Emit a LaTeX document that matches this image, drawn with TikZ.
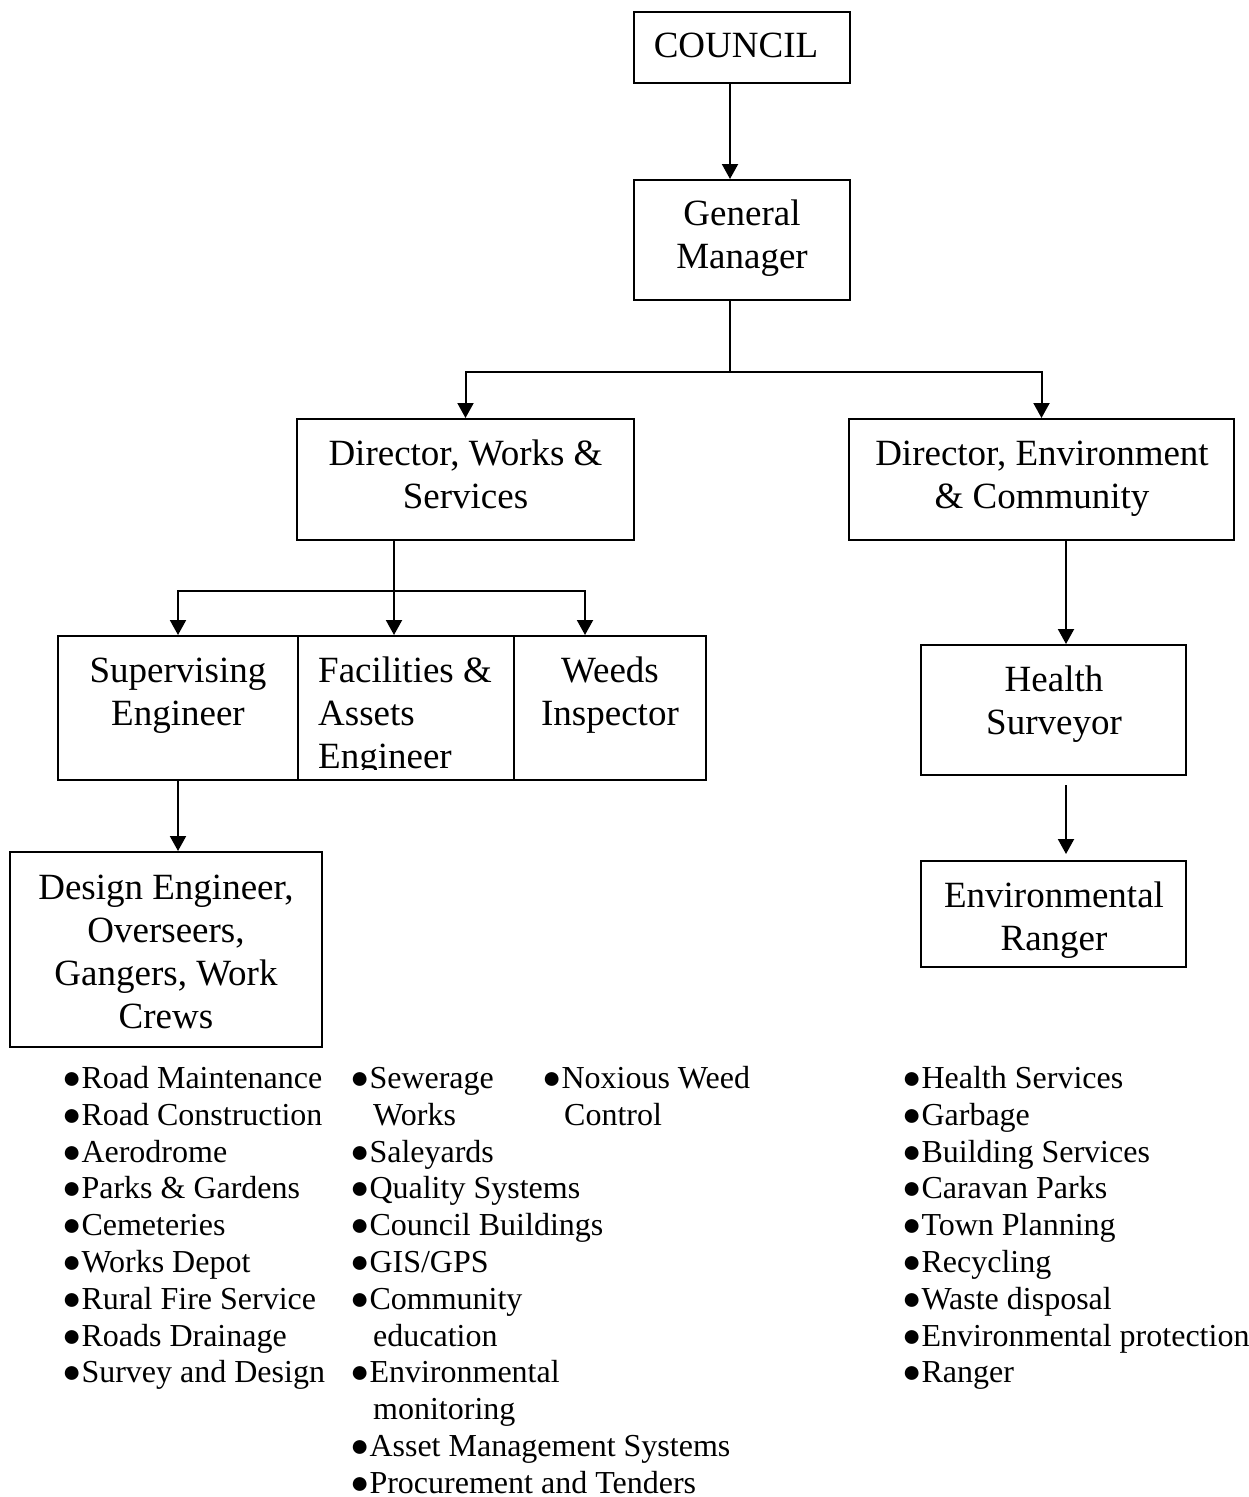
\documentclass[tikz,border=0pt]{standalone}
\usepackage{fontspec}
\setmainfont{Liberation Serif}
\usetikzlibrary{arrows.meta}
\begin{document}
\begin{tikzpicture}[x=1pt,y=-1pt,
  box/.style={draw, line width=2pt, inner sep=0pt, rectangle},
  boxtext/.style={font=\fontsize{37}{43}\selectfont, align=center, anchor=base, inner sep=0pt},
  listtext/.style={font=\fontsize{32}{36.8}\selectfont, align=left, anchor=base west, inner sep=0pt},
  conn/.style={line width=2pt},
  arr/.style={conn, -{Triangle[length=15pt,width=16pt]}}]

\useasboundingbox[fill=white] (0,0) rectangle (1249,1497);

% boxes
\node[box, minimum width=216pt, minimum height=71pt]  (council) at (742,47.5) {};
\node[box, minimum width=216pt, minimum height=120pt] (gm)      at (742,240) {};
\node[box, minimum width=337pt, minimum height=121pt] (dw)      at (465.5,479.5) {};
\node[box, minimum width=385pt, minimum height=121pt] (de)      at (1041.5,479.5) {};
\node[box, minimum width=240pt, minimum height=144pt] (sup)     at (178,708) {};
\node[box, minimum width=216pt, minimum height=144pt] (fac)     at (406,708) {};
\node[box, minimum width=192pt, minimum height=144pt] (weeds)   at (610,708) {};
\node[box, minimum width=312pt, minimum height=195pt] (design)  at (166,949.5) {};
\node[box, minimum width=265pt, minimum height=130pt] (hs)      at (1053.5,710) {};
\node[box, minimum width=265pt, minimum height=106pt] (er)      at (1053.5,914) {};

% box labels (anchored at the baseline of the last line)
\node[boxtext] (councilT) at (736,57) {COUNCIL};
\node[boxtext] (gmT) at (742,268) {General\\Manager};
\node[boxtext] (dwT) at (465.5,508) {Director, Works \&\\Services};
\node[boxtext] (deT) at (1042,508) {Director, Environment\\\& Community};
\node[boxtext] (supT) at (178,725) {Supervising\\Engineer};
\begin{scope}
  \clip (299,637) rectangle (513,769);
  \node[boxtext, align=left, anchor=base west] (facT) at (318,768) {Facilities \&\\Assets\\Engineer};
\end{scope}
\node[boxtext] (weedsT) at (610,725) {Weeds\\Inspector};
\node[boxtext] (designT) at (166,1028) {Design Engineer,\\Overseers,\\Gangers, Work\\Crews};
\node[boxtext] (hsT) at (1054,734) {Health\\Surveyor};
\node[boxtext] (erT) at (1054,950) {Environmental\\Ranger};

% connectors
\draw[arr] ([xshift=-12pt]council.south) -- ([xshift=-12pt]gm.north);
\draw[conn] ([xshift=-12pt]gm.south) -- ++(0,71) coordinate (gmfork);
\draw[arr] (gmfork) -| (dw.north);
\draw[arr] (gmfork) -| (de.north);

\draw[conn] ([xshift=-71.5pt]dw.south) -- ++(0,50) coordinate (dwfork);
\draw[arr] ([xshift=-71.5pt]dw.south) -- ([xshift=-12pt]fac.north);
\draw[arr] (dwfork) -| (sup.north);
\draw[arr] (dwfork) -| ([xshift=-25pt]weeds.north);
\draw[arr] (sup.south) -- ([xshift=12pt]design.north);

\draw[arr] ([xshift=24.5pt]de.south) -- ([xshift=12.5pt]hs.north);
\draw[arr] ([xshift=12.5pt,yshift=-9pt]hs.south) -- ([xshift=12.5pt,yshift=6pt]er.north);

% duty lists (anchored at the baseline of the last line)
\node[listtext] (listA) at (62,1382.9) {●Road Maintenance\\●Road Construction\\●Aerodrome\\●Parks \& Gardens\\●Cemeteries\\●Works Depot\\●Rural Fire Service\\●Roads Drainage\\●Survey and Design};
\node[listtext] (listB) at (350,1493.3) {●Sewerage\\\hspace*{23pt}Works\\●Saleyards\\●Quality Systems\\●Council Buildings\\●GIS/GPS\\●Community\\\hspace*{23pt}education\\●Environmental\\\hspace*{23pt}monitoring\\●Asset Management Systems\\●Procurement and Tenders};
\node[listtext] (listC) at (542,1125.3) {●Noxious Weed\\\hspace*{22pt}Control};
\node[listtext] (listD) at (902,1382.9) {●Health Services\\●Garbage\\●Building Services\\●Caravan Parks\\●Town Planning\\●Recycling\\●Waste disposal\\●Environmental protection\\●Ranger};
\end{tikzpicture}
\end{document}
